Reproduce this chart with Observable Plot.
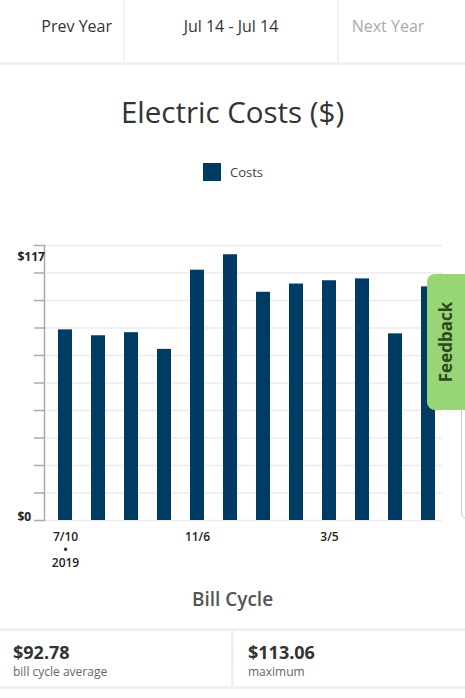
<!DOCTYPE html>
<html>
<head>
<meta charset="utf-8">
<script src="https://cdn.jsdelivr.net/npm/d3@7"></script>
<script src="https://cdn.jsdelivr.net/npm/@observablehq/plot@0.6"></script>
<style>
  html, body { margin: 0; padding: 0; background: #fff; }
  body { width: 465px; height: 698px; position: relative; overflow: hidden; font-family: "Open Sans", sans-serif; }
  .abs { position: absolute; }
  .hdr { top: 0; height: 63px; line-height: 52px; font-size: 16px; text-align: center; }
  #chart { position: absolute; left: 0; top: 230px; }
</style>
</head>
<body>
<div class="abs hdr" style="left:0;width:124px;color:#333;text-align:right;"><span style="padding-right:12px">Prev Year</span></div>
<div class="abs hdr" style="left:124px;width:214px;color:#333;">Jul 14 - Jul 14</div>
<div class="abs hdr" style="left:338px;width:100px;color:#aaa;">Next Year</div>
<div class="abs" style="left:123px;top:0;width:2px;height:63px;background:#f1f1f1;"></div>
<div class="abs" style="left:337px;top:0;width:2px;height:63px;background:#f1f1f1;"></div>
<div class="abs" style="left:0;top:62px;width:465px;height:3px;background:#f1f1f1;"></div>

<div class="abs" id="title" style="left:0;top:92px;width:465px;text-align:center;font-size:29.5px;color:#333;line-height:40px;">Electric Costs ($)</div>
<div class="abs" id="legend" style="left:203px;top:163px;height:18px;display:flex;align-items:center;font-size:13px;color:#444;">
  <span id="legendSwatch" style="display:inline-block;width:18px;height:18px;margin-right:9px;"></span><span id="legendLabel"></span>
</div>

<div id="chart"></div>

<div class="abs" style="left:0;top:586px;width:465px;text-align:center;font-size:19px;font-weight:600;color:#555;line-height:26px;">Bill Cycle</div>

<div class="abs" style="left:0;top:628px;width:465px;height:3px;background:#f0f0f0;"></div>
<div class="abs" style="left:0;top:686px;width:465px;height:3px;background:#f0f0f0;"></div>
<div class="abs" style="left:231px;top:631px;width:3px;height:55px;background:#f0f0f0;"></div>
<div class="abs" id="stat1v" style="left:13px;top:639px;font-size:18px;font-weight:700;color:#333;line-height:26px;"></div>
<div class="abs" id="stat1l" style="left:13px;top:664px;font-size:12px;color:#666;line-height:16px;"></div>
<div class="abs" id="stat2v" style="left:248px;top:639px;font-size:18px;font-weight:700;color:#333;line-height:26px;"></div>
<div class="abs" id="stat2l" style="left:248px;top:664px;font-size:12px;color:#666;line-height:16px;"></div>

<div class="abs" style="left:461px;top:337px;width:20px;height:180px;border:1px solid #ccc;border-radius:6px;background:#fff;"></div>
<div class="abs" style="left:427px;top:274px;width:50px;height:136px;background:#98d576;border-radius:8px;">
  <div style="position:absolute;left:18px;top:68px;transform:translate(-50%,-50%) rotate(-90deg);font-size:17px;font-weight:700;color:#2c4a1c;white-space:nowrap;">Feedback</div>
</div>

<script>
// ---- data ----
const billDates = ["7/10/2019","8/8/2019","9/9/2019","10/8/2019","11/6/2019","12/6/2019","1/7/2020","2/5/2020","3/5/2020","4/3/2020","5/4/2020","6/3/2020"];
const costs = [81.1, 78.6, 79.9, 72.8, 106.5, 113.06, 97.1, 100.6, 102.0, 102.8, 79.4, 99.4];
const xTickLabels = ["7/10\n•\n2019", "", "", "", "11/6", "", "", "", "3/5", "", "", ""];
const gridValues = [0, 11.7, 23.4, 35.1, 46.8, 58.5, 70.2, 81.9, 93.6, 105.3, 117];
const yLabelValues = [0, 117];
const yLabelTexts = ["$0", "$117"];
const seriesName = "Costs";
const barColor = "#003b63";
const statValues = ["$92.78", "$113.06"];
const statLabels = ["bill cycle average", "maximum"];

// ---- page text ----
document.getElementById("legendSwatch").style.background = barColor;
document.getElementById("legendLabel").textContent = seriesName;
document.getElementById("stat1v").textContent = statValues[0];
document.getElementById("stat1l").textContent = statLabels[0];
document.getElementById("stat2v").textContent = statValues[1];
document.getElementById("stat2l").textContent = statLabels[1];

const data = billDates.map((d, i) => ({date: d, cost: costs[i]}));
const labelOf = new Map(billDates.map((d, i) => [d, xTickLabels[i]]));

const chart = Plot.plot({
  width: 465,
  height: 345,
  marginTop: 15,
  marginBottom: 55,
  marginLeft: 47,
  marginRight: 20,
  style: {fontFamily: "Open Sans, sans-serif", background: "transparent", overflow: "visible"},
  x: {domain: billDates, paddingInner: 0.58, paddingOuter: 0.29, axis: null},
  y: {domain: [0, 117], axis: null},
  marks: [
    Plot.ruleY(gridValues, {stroke: "#ececec", strokeWidth: 1.5, insetLeft: -3, insetRight: 3}),
    Plot.axisY({ticks: gridValues, tickSize: 10, tickFormat: () => "", label: null, stroke: "#aaa", strokeWidth: 1.5, dx: -3}),
    Plot.frame({anchor: "left", stroke: "#aaa", strokeWidth: 1.5, dx: -3}),
    Plot.barY(data, {x: "date", y: "cost", fill: barColor}),
    Plot.axisX({tickSize: 0, tickPadding: 12, tickFormat: d => labelOf.get(d), label: null, fontSize: 12, fontWeight: 600, fill: "#222", lineHeight: 1.05}),
    Plot.text([yLabelValues[0]], {y: d => d, text: () => yLabelTexts[0], frameAnchor: "left", textAnchor: "start", dx: -30, dy: -3, fontSize: 12, fontWeight: 700, fill: "#222"}),
    Plot.text([yLabelValues[1]], {y: d => d, text: () => yLabelTexts[1], frameAnchor: "left", textAnchor: "start", dx: -30, dy: 12, fontSize: 12, fontWeight: 700, fill: "#222"})
  ]
});
document.getElementById("chart").appendChild(chart);
</script>
</body>
</html>
